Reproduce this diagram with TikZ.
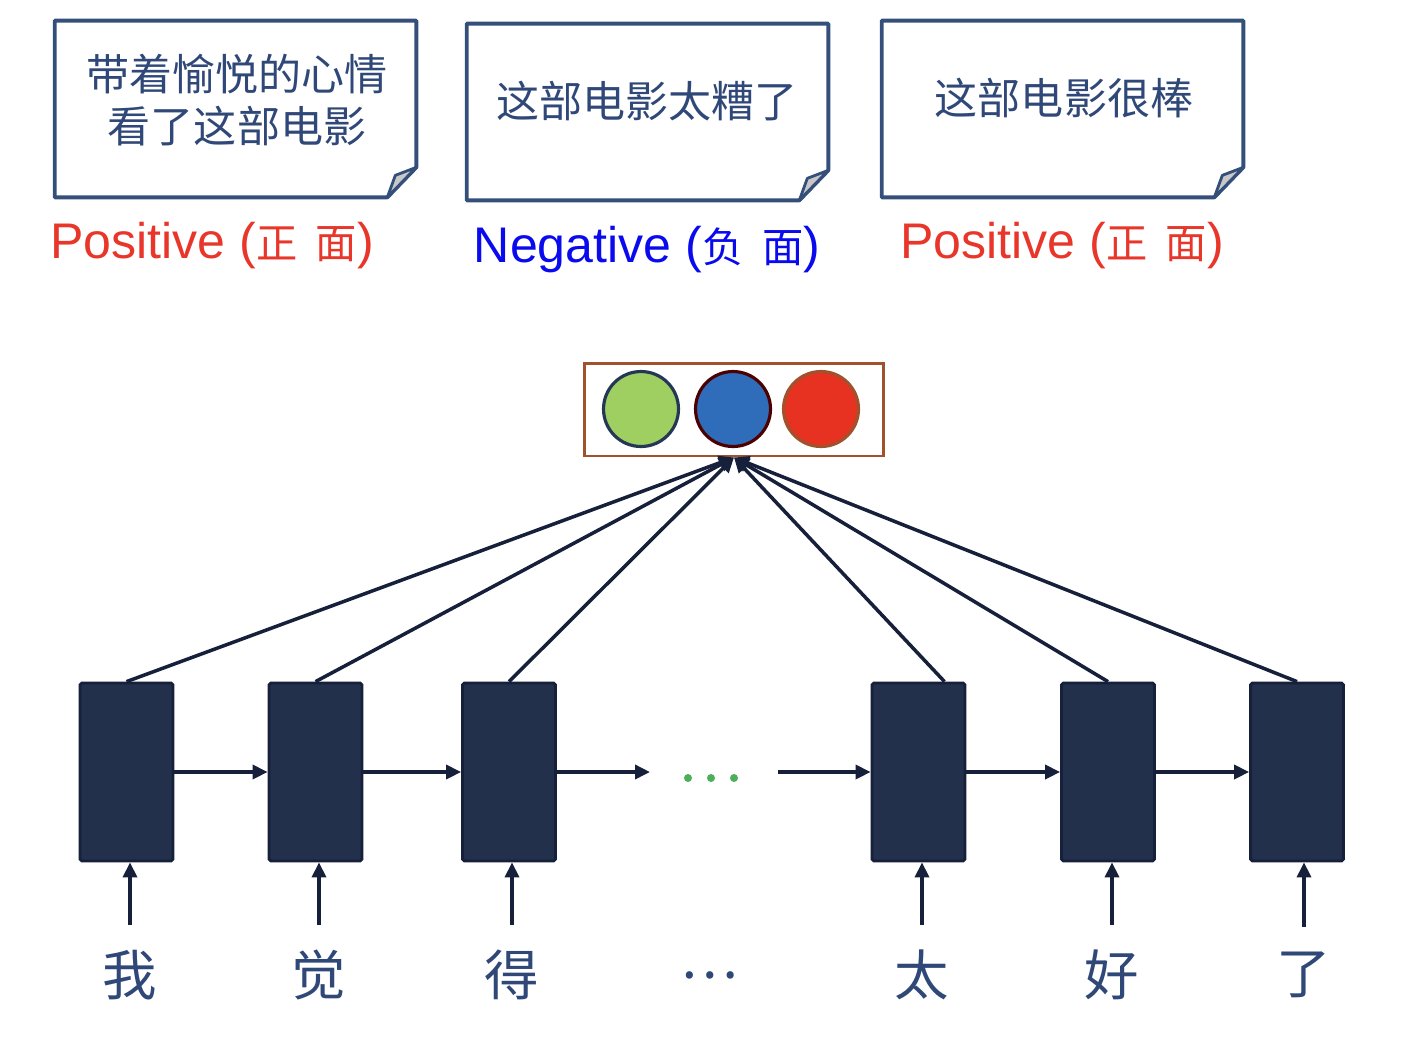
\documentclass[tikz,border=0pt]{standalone}
\usepackage{fontspec}
\setmainfont{Liberation Sans}
\newfontfamily\cjk{Noto Sans CJK SC}
\usepackage{tikz}
\usetikzlibrary{arrows.meta}
\usetikzlibrary{positioning}
\definecolor{notebd}{HTML}{34507A}
\definecolor{notetx}{HTML}{2F4878}
\definecolor{cellfill}{HTML}{22304C}
\definecolor{celldraw}{HTML}{16203A}
\definecolor{posred}{HTML}{E8372A}
\definecolor{negblue}{HTML}{0A0AEE}
\definecolor{outbrown}{HTML}{A0522D}
\definecolor{ballgreen}{HTML}{9ECF60}
\definecolor{ballblue}{HTML}{2F6DBB}
\definecolor{ballred}{HTML}{E73222}
\definecolor{foldgray}{HTML}{C8C8C8}
\definecolor{dotgreen}{HTML}{4CAF5A}
\newcommand{\zh}[1]{{\cjk\fontsize{23.5}{26}\selectfont #1}}
\newcommand{\notefold}[1]{%
  \draw[notebd,line width=2.2pt,line join=round]
    (#1.north west) -- (#1.north east) -- ([yshift=0.6cm]#1.south east)
    -- ([xshift=-0.58cm]#1.south east) -- (#1.south west) -- cycle;
  \draw[notebd,line width=1.6pt,line join=round,fill=foldgray]
    ([yshift=0.6cm]#1.south east) -- ([xshift=-0.42cm,yshift=0.44cm]#1.south east)
    -- ([xshift=-0.58cm]#1.south east) -- cycle;}

\begin{document}
\begin{tikzpicture}[x=0.02cm,y=-0.02cm,
  note/.style={minimum width=7.22cm,minimum height=3.52cm,inner sep=0pt},
  notetext/.style={text=notetx,align=center,font=\cjk\fontsize{24.5}{30}\selectfont},
  sent/.style={font=\fontsize{28.5}{32}\selectfont},
  cell/.style={draw=celldraw,fill=cellfill,line width=1.6pt,rounded corners=1pt,minimum width=1.86cm,minimum height=3.56cm,inner sep=0pt},
  ball/.style={circle,line width=1.8pt,minimum size=1.5cm,inner sep=0pt},
  word/.style={text=notetx,inner ysep=0.5cm,font=\cjk\fontsize{31}{36}\selectfont},
  link/.style={draw=celldraw,line width=2pt,-{Triangle[length=0.3cm,width=0.28cm]}}]
  \useasboundingbox (0,0) rectangle (1402,1042);
  \node[note] (n1) at (235.5,109) {};
  \node[note] (n2) at (647.5,112) {};
  \node[note] (n3) at (1062.5,109) {};
  \notefold{n1}
  \notefold{n2}
  \notefold{n3}
  \node[notetext] (t1) at (237,100) {带着愉悦的心情\\看了这部电影};
  \node[notetext] (t2) at (647,101) {这部电影太糟了};
  \node[notetext] (t3) at (1064,98) {这部电影很棒};
  \node[sent,text=posred] (s1) at (212,246) {Positive (\zh{正\hspace{0.45em}面})};
  \node[sent,text=negblue] (s2) at (647,250) {Negative (\zh{负\hspace{0.45em}面})};
  \node[sent,text=posred] (s3) at (1062,246) {Positive (\zh{正\hspace{0.45em}面})};
  \node[draw=outbrown,line width=1.7pt,minimum width=6cm,minimum height=1.86cm] (out) at (734,409.5) {};
  \node[ball,draw=notebd!70!black,fill=ballgreen] (c1) at (641,409) {};
  \node[ball,draw=red!30!black,fill=ballblue] (c2) at (733,409) {};
  \node[ball,draw=outbrown,fill=ballred] (c3) at (821,409) {};
  \node[cell] (h1) at (126.5,772) {};
  \node[cell] (h2) at (315.5,772) {};
  \node[cell] (h3) at (509,772) {};
  \node[cell] (h4) at (918.5,772) {};
  \node[cell] (h5) at (1108,772) {};
  \node[cell] (h6) at (1297,772) {};
  \coordinate (g1) at (650,772);
  \coordinate (g2) at (778,772);
  \fill[dotgreen] (688,778) circle (0.08cm);
  \fill[dotgreen] (711,778) circle (0.08cm);
  \fill[dotgreen] (734,778) circle (0.08cm);
  \draw[link] (h1) -- (h2);
  \draw[link] (h2) -- (h3);
  \draw[link] (h3) -- (g1);
  \draw[link] (g2) -- (h4);
  \draw[link] (h4) -- (h5);
  \draw[link] (h5) -- (h6);
  \node[word] (w1) at (130,975) {我};
  \node[word] (w2) at (319,975) {觉};
  \node[word] (w3) at (512,975) {得};
  \node[word] (w0) at (709,975) {…};
  \node[word] (w4) at (922,975) {太};
  \node[word] (w5) at (1112,975) {好};
  \node[word] (w6) at (1304,975) {了};
  \draw[link] (w1.north) -- (w1.north |- h1.south);
  \draw[link] (w2.north) -- (w2.north |- h2.south);
  \draw[link] (w3.north) -- (w3.north |- h3.south);
  \draw[link] (w4.north) -- (w4.north |- h4.south);
  \draw[link] (w5.north) -- (w5.north |- h5.south);
  \draw[link] (w6.north) -- (w6.north |- h6.south);
  \draw[link] (h1.north) -- (out.south);
  \draw[link] (h2.north) -- (out.south);
  \draw[link] (h3.north) -- (out.south);
  \draw[link] ([xshift=0.52cm]h4.north) -- (out.south);
  \draw[link] (h5.north) -- (out.south);
  \draw[link] (h6.north) -- (out.south);
\end{tikzpicture}
\end{document}
